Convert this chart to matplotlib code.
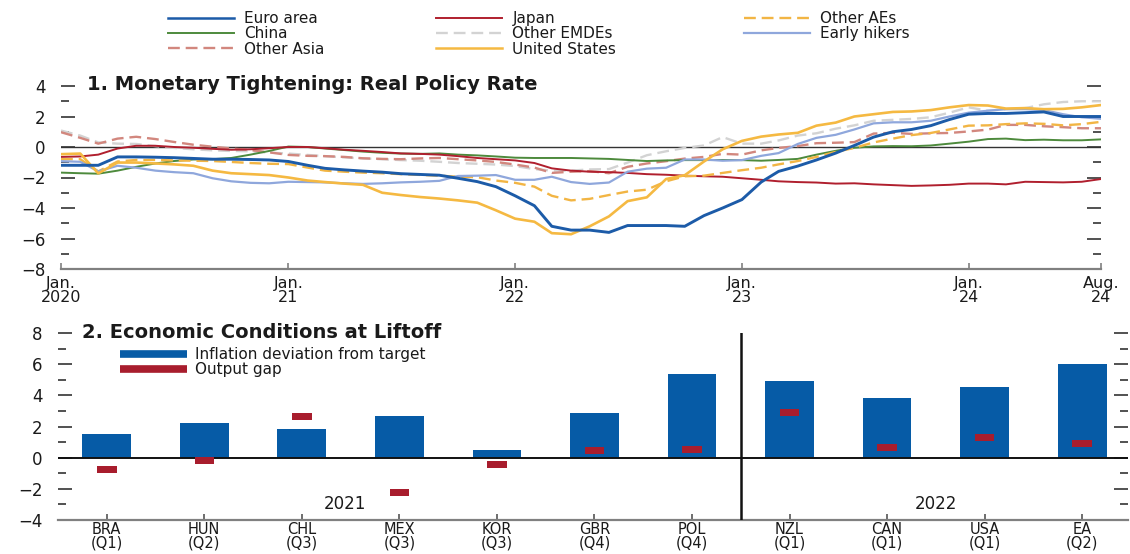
import numpy as np
import pandas as pd
import matplotlib
matplotlib.use("Agg")
import matplotlib.pyplot as plt
from matplotlib.lines import Line2D
from matplotlib.ticker import MultipleLocator

plt.rcParams['font.family'] = ['DejaVu Sans']
plt.rcParams['axes.unicode_minus'] = True

# ---------------- data ----------------
months = pd.date_range("2020-01-01", "2024-08-01", freq="MS")

euro_area = [-1.2, -1.2, -1.2, -0.65, -0.65, -0.67, -0.7, -0.75, -0.8, -0.8,
             -0.82, -0.85, -0.95, -1.2, -1.4, -1.5, -1.58, -1.65, -1.75, -1.8,
             -1.85, -2.05, -2.27, -2.6, -3.2, -3.85, -5.2, -5.45, -5.45, -5.6,
             -5.15, -5.15, -5.15, -5.2, -4.5, -4.0, -3.45, -2.3, -1.6, -1.25,
             -0.85, -0.4, 0.1, 0.65, 1.0, 1.15, 1.4, 1.8, 2.15, 2.2,
             2.2, 2.25, 2.3, 2.0, 2.0, 2.0]
japan = [-0.65, -0.62, -0.5, -0.1, 0.08, 0.08, 0.0, -0.05, -0.12, -0.18,
         -0.15, -0.08, 0.0, 0.0, -0.08, -0.18, -0.25, -0.33, -0.42, -0.45,
         -0.5, -0.6, -0.72, -0.8, -0.88, -1.05, -1.4, -1.55, -1.62, -1.65,
         -1.7, -1.78, -1.82, -1.88, -1.92, -1.95, -2.05, -2.15, -2.25, -2.3,
         -2.33, -2.4, -2.38, -2.45, -2.5, -2.55, -2.52, -2.48, -2.4, -2.4,
         -2.45, -2.28, -2.3, -2.32, -2.28, -2.1]
other_aes = [-0.8, -0.8, -1.6, -0.95, -0.85, -0.85, -0.88, -0.9, -0.92, -0.98,
             -1.05, -1.1, -1.12, -1.35, -1.55, -1.62, -1.68, -1.72, -1.78, -1.83,
             -1.88, -1.95, -1.98, -2.2, -2.35, -2.6, -3.2, -3.5, -3.4, -3.15,
             -2.92, -2.8, -2.25, -1.92, -1.88, -1.7, -1.52, -1.36, -1.14, -0.92,
             -0.65, -0.32, -0.06, 0.3, 0.55, 0.78, 0.92, 1.15, 1.4, 1.42,
             1.5, 1.55, 1.52, 1.42, 1.5, 1.65]
china = [-1.68, -1.72, -1.75, -1.55, -1.3, -1.08, -0.92, -0.82, -0.8, -0.72,
         -0.5, -0.26, 0.03, 0.0, -0.1, -0.2, -0.3, -0.38, -0.43, -0.45,
         -0.42, -0.5, -0.55, -0.62, -0.7, -0.72, -0.72, -0.72, -0.75, -0.78,
         -0.85, -0.92, -0.88, -0.86, -0.86, -0.85, -0.86, -0.9, -0.85, -0.78,
         -0.5, -0.25, -0.05, 0.04, 0.06, 0.05, 0.1, 0.22, 0.35, 0.52,
         0.55, 0.45, 0.48, 0.44, 0.44, 0.5]
other_emdes = [1.08, 0.75, 0.3, 0.22, 0.2, 0.06, -0.06, -0.15, -0.22, -0.26,
               -0.28, -0.37, -0.43, -0.52, -0.6, -0.68, -0.75, -0.8, -0.86, -0.9,
               -0.97, -1.05, -1.1, -1.15, -1.25, -1.45, -1.55, -1.55, -1.47, -1.45,
               -1.02, -0.54, -0.28, -0.06, 0.1, 0.65, 0.22, 0.22, 0.43, 0.75,
               0.9, 1.2, 1.42, 1.72, 1.78, 1.84, 1.95, 2.25, 2.6, 2.38,
               2.48, 2.55, 2.8, 2.95, 3.0, 3.0]
early_hikers = [-0.93, -0.97, -1.6, -1.23, -1.36, -1.55, -1.65, -1.72, -2.05, -2.25,
                -2.35, -2.38, -2.28, -2.3, -2.32, -2.38, -2.42, -2.38, -2.32, -2.28,
                -2.22, -1.9, -1.88, -1.84, -2.15, -2.15, -1.95, -2.3, -2.42, -2.33,
                -1.62, -1.42, -1.36, -0.82, -0.82, -0.9, -0.86, -0.58, -0.4, 0.2,
                0.6, 0.8, 1.15, 1.55, 1.62, 1.62, 1.72, 2.0, 2.25, 2.38,
                2.48, 2.48, 2.42, 2.15, 1.95, 1.85]
other_asia = [0.97, 0.6, 0.22, 0.55, 0.67, 0.52, 0.33, 0.15, 0.02, -0.1,
              -0.2, -0.35, -0.52, -0.58, -0.6, -0.65, -0.74, -0.78, -0.8, -0.75,
              -0.72, -0.8, -0.88, -0.98, -1.15, -1.35, -1.7, -1.62, -1.58, -1.72,
              -1.3, -1.08, -0.93, -0.76, -0.65, -0.45, -0.5, -0.22, -0.06, 0.06,
              0.25, 0.28, 0.32, 0.88, 0.93, 0.86, 0.9, 0.92, 1.02, 1.14,
              1.45, 1.45, 1.36, 1.3, 1.23, 1.23]
united_states = [-0.47, -0.43, -1.73, -1.02, -1.02, -1.08, -1.14, -1.23, -1.55, -1.72,
                 -1.78, -1.84, -2.0, -2.2, -2.3, -2.4, -2.48, -3.0, -3.15, -3.28,
                 -3.38, -3.5, -3.65, -4.15, -4.7, -4.9, -5.65, -5.72, -5.2, -4.55,
                 -3.55, -3.3, -2.1, -1.85, -0.95, -0.15, 0.4, 0.68, 0.82, 0.93,
                 1.4, 1.6, 2.0, 2.15, 2.3, 2.33, 2.42, 2.6, 2.75, 2.72,
                 2.52, 2.55, 2.48, 2.5, 2.6, 2.75]

top_tick_dates = ["2020-01-01", "2021-01-01", "2022-01-01", "2023-01-01", "2024-01-01", "2024-08-01"]
top_tick_labels = ["Jan.\n2020", "Jan.\n21", "Jan.\n22", "Jan.\n23", "Jan.\n24", "Aug.\n24"]

countries = ["BRA", "HUN", "CHL", "MEX", "KOR", "GBR", "POL", "NZL", "CAN", "USA", "EA"]
quarters = ["Q1", "Q2", "Q3", "Q3", "Q3", "Q4", "Q4", "Q1", "Q1", "Q1", "Q2"]
inflation_dev = [1.5, 2.25, 1.85, 2.7, 0.5, 2.85, 5.35, 4.9, 3.85, 4.55, 6.0]
output_gap = [-0.77, -0.2, 2.67, -2.24, -0.43, 0.43, 0.51, 2.88, 0.67, 1.32, 0.91]
year_labels = ["2021", "2022"]

# ---------------- styles ----------------
C_EURO = '#1c5ba8'
C_JAPAN = '#b01f2e'
C_OAES = '#f2b544'
C_CHINA = '#4d8a3c'
C_OEMDE = '#d3d3d3'
C_EARLY = '#8fa7dc'
C_OASIA = '#d2877e'
C_US = '#f5b942'
C_BAR = '#065ba6'
C_GAP = '#a81d2d'
TXT = '#1a1a1a'

series = {
    "Euro area": (euro_area, dict(color=C_EURO, lw=2.1, zorder=9)),
    "Japan": (japan, dict(color=C_JAPAN, lw=1.4, zorder=5)),
    "Other AEs": (other_aes, dict(color=C_OAES, lw=1.7, dashes=(5, 2.5), zorder=6)),
    "China": (china, dict(color=C_CHINA, lw=1.4, zorder=4)),
    "Other EMDEs": (other_emdes, dict(color=C_OEMDE, lw=1.7, dashes=(5, 2.5), zorder=2)),
    "Early hikers": (early_hikers, dict(color=C_EARLY, lw=1.6, zorder=7)),
    "Other Asia": (other_asia, dict(color=C_OASIA, lw=1.7, dashes=(5, 2.5), zorder=3)),
    "United States": (united_states, dict(color=C_US, lw=1.9, zorder=8)),
}

W, H = 1130, 554
fig = plt.figure(figsize=(W / 100, H / 100), dpi=100)

# ---------------- panel 1 ----------------
ax1 = fig.add_axes([61 / W, (H - 269) / H, 1040 / W, 183 / H])
ax1.axhline(0, color='#333333', lw=1.0, zorder=1)
handles = {}
for name, (vals, st) in series.items():
    ln, = ax1.plot(months, vals, label=name, **st)
    handles[name] = ln

ax1.set_xlim(months[0], months[-1])
ax1.set_ylim(-8, 4)
ax1.set_yticks(np.arange(-8, 5, 2))
ax1.yaxis.set_minor_locator(MultipleLocator(1))
ax1.set_xticks(pd.to_datetime(top_tick_dates))
ax1.set_xticklabels(top_tick_labels, linespacing=0.95)
for s in ['left', 'right', 'top']:
    ax1.spines[s].set_visible(False)
ax1.spines['bottom'].set_color('#808080')
ax1.spines['bottom'].set_linewidth(1.6)
ax1.tick_params(axis='y', which='major', direction='in', left=True, right=True,
                length=10, width=1.2, pad=11, labelsize=12, colors='#333333',
                labelcolor=TXT)
ax1.tick_params(axis='y', which='minor', direction='in', left=True, right=True,
                length=6, width=1.2, colors='#333333')
ax1.tick_params(axis='x', which='major', direction='in', length=4, width=1.2,
                pad=5, labelsize=11.5, colors='#808080', labelcolor=TXT)
ax1.tick_params(axis='x', which='minor', bottom=False)

fig.text(87 / W, 1 - 85 / H, "1. Monetary Tightening: Real Policy Rate",
         fontsize=14, fontweight='bold', color=TXT, ha='left', va='center')

# legend: three columns
cols = [["Euro area", "China", "Other Asia"],
        ["Japan", "Other EMDEs", "United States"],
        ["Other AEs", "Early hikers"]]
col_x = [168, 436, 744]
for names, cx in zip(cols, col_x):
    lg = fig.legend([handles[n] for n in names], names, loc='upper left',
                    bbox_to_anchor=(cx / W, 1 - 11 / H), bbox_transform=fig.transFigure,
                    frameon=False, borderpad=0, borderaxespad=0, fontsize=11,
                    handlelength=4.3, handletextpad=0.7, labelspacing=0.02)
    for t in lg.get_texts():
        t.set_color(TXT)
    for lh in lg.get_lines():
        lh.set_linewidth(min(lh.get_linewidth(), 1.8))

# ---------------- panel 2 ----------------
ax2 = fig.add_axes([58 / W, (H - 520) / H, 1070 / W, 187 / H])
x = np.arange(len(countries))
ax2.bar(x, inflation_dev, width=0.5, color=C_BAR, zorder=2)
gap_h = 0.45
ax2.bar(x, gap_h, bottom=np.array(output_gap) - gap_h / 2, width=0.2,
        color=C_GAP, zorder=4)
ax2.axhline(0, color='#111111', lw=1.4, zorder=3)
ax2.axvline(6.5, color='#111111', lw=1.8, zorder=3)
ax2.set_xlim(-0.5, 10.47)
ax2.set_ylim(-4, 8)
ax2.set_yticks(np.arange(-4, 9, 2))
ax2.yaxis.set_minor_locator(MultipleLocator(1))
ax2.set_xticks(x)
ax2.set_xticklabels([f"{c}\n({q})" for c, q in zip(countries, quarters)], linespacing=0.85)
for s in ['left', 'right', 'top']:
    ax2.spines[s].set_visible(False)
ax2.spines['bottom'].set_color('#808080')
ax2.spines['bottom'].set_linewidth(1.6)
ax2.tick_params(axis='y', which='major', direction='in', left=True, right=True,
                length=10, width=1.2, pad=11, labelsize=12, colors='#333333',
                labelcolor=TXT)
ax2.tick_params(axis='y', which='minor', direction='in', left=True, right=True,
                length=6, width=1.2, colors='#333333')
ax2.tick_params(axis='x', which='major', direction='in', length=4, width=1.2,
                pad=1.5, labelsize=10.5, colors='#555555', labelcolor=TXT)

ax2.text(2.44, -3.0, year_labels[0], fontsize=12, color=TXT, ha='center', va='center')
ax2.text(8.5, -3.0, year_labels[1], fontsize=12, color=TXT, ha='center', va='center')

fig.text(82 / W, 1 - 333 / H, "2. Economic Conditions at Liftoff",
         fontsize=14, fontweight='bold', color=TXT, ha='left', va='center')

bar_handles = [Line2D([], [], color=C_BAR, lw=5.5, solid_capstyle='butt'),
               Line2D([], [], color=C_GAP, lw=5.5, solid_capstyle='butt')]
lg2 = fig.legend(bar_handles, ["Inflation deviation from target", "Output gap"],
                 loc='upper left', bbox_to_anchor=(120 / W, 1 - 347 / H),
                 bbox_transform=fig.transFigure, frameon=False, borderpad=0,
                 borderaxespad=0, fontsize=11, handlelength=4.4, handletextpad=0.5,
                 labelspacing=0.02)
for t in lg2.get_texts():
    t.set_color(TXT)

fig.savefig("out.png", dpi=100)
